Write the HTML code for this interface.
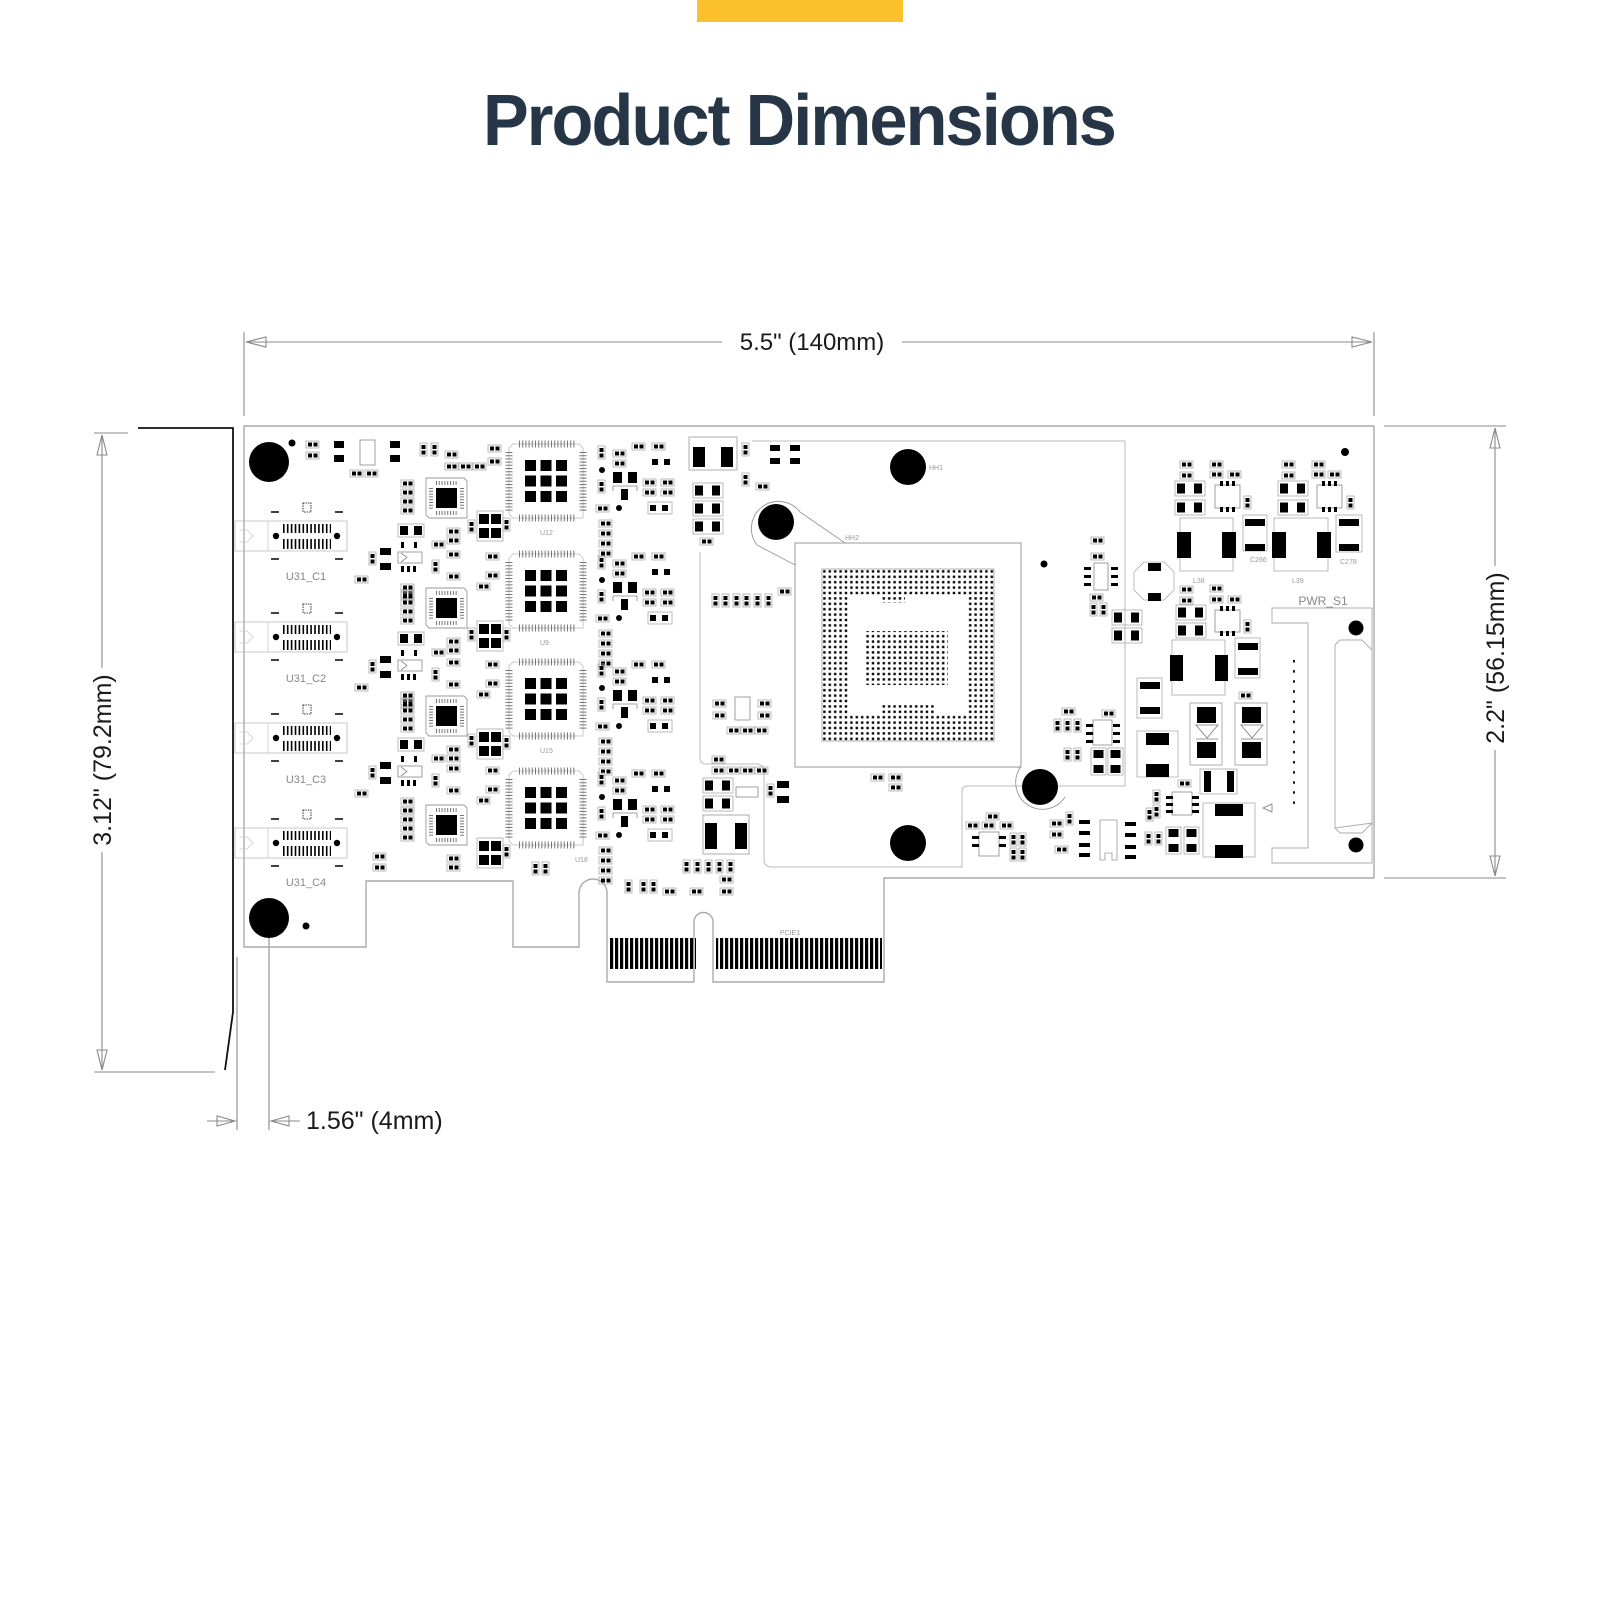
<!DOCTYPE html>
<html><head><meta charset="utf-8"><style>
html,body{margin:0;padding:0;background:#fff;}
svg{display:block;}
</style></head><body>
<svg width="1600" height="1600" viewBox="0 0 1600 1600" xmlns="http://www.w3.org/2000/svg" font-family="'Liberation Sans', sans-serif">
<defs>
  <g id="pp"><rect x="0" y="0" width="13" height="7" fill="none" stroke="#aaa" stroke-width="0.8"/><rect x="2" y="1.5" width="4" height="4" fill="#000"/><rect x="7.5" y="1.5" width="4" height="4" fill="#000"/></g>
  <g id="pv"><rect x="0" y="0" width="7" height="13" fill="none" stroke="#aaa" stroke-width="0.8"/><rect x="1.5" y="2" width="4" height="4" fill="#000"/><rect x="1.5" y="7.5" width="4" height="4" fill="#000"/></g>
  <g id="bp"><rect x="0" y="0" width="30" height="15" fill="none" stroke="#aaa" stroke-width="0.8"/><rect x="2" y="2.5" width="8" height="10" fill="#000"/><rect x="19" y="2.5" width="8" height="10" fill="#000"/></g>
  <g id="bv"><rect x="0" y="0" width="15" height="27" fill="none" stroke="#aaa" stroke-width="0.8"/><rect x="2.5" y="2" width="10" height="8" fill="#000"/><rect x="2.5" y="17" width="10" height="8" fill="#000"/></g>
  <g id="qfp">
    <path d="M6 4 H72 L76 8 V78 H6 L2 74 V8 Z" fill="none" stroke="#bbb" stroke-width="0.8"/>
    <line x1="12" y1="4" x2="68" y2="4" stroke="#777" stroke-width="7" stroke-dasharray="1 2.2"/>
    <line x1="12" y1="78" x2="68" y2="78" stroke="#777" stroke-width="7" stroke-dasharray="1 2.2"/>
    <line x1="2" y1="12" x2="2" y2="72" stroke="#777" stroke-width="7" stroke-dasharray="1 2.2"/>
    <line x1="76" y1="12" x2="76" y2="72" stroke="#777" stroke-width="7" stroke-dasharray="1 2.2"/>
    <rect x="18" y="20" width="11" height="11" fill="#000"/><rect x="33.5" y="20" width="11" height="11" fill="#000"/><rect x="49" y="20" width="11" height="11" fill="#000"/>
    <rect x="18" y="35.5" width="11" height="11" fill="#000"/><rect x="33.5" y="35.5" width="11" height="11" fill="#000"/><rect x="49" y="35.5" width="11" height="11" fill="#000"/>
    <rect x="18" y="51" width="11" height="11" fill="#000"/><rect x="33.5" y="51" width="11" height="11" fill="#000"/><rect x="49" y="51" width="11" height="11" fill="#000"/>
  </g>
  <g id="qfn">
    <path d="M0 0 H38 L41 3 V40 H3 L0 37 Z" fill="none" stroke="#999" stroke-width="0.9"/>
    <line x1="10" y1="5" x2="32" y2="5" stroke="#777" stroke-width="4" stroke-dasharray="1 1.8"/>
    <line x1="10" y1="35" x2="32" y2="35" stroke="#777" stroke-width="4" stroke-dasharray="1 1.8"/>
    <line x1="5" y1="10" x2="5" y2="31" stroke="#777" stroke-width="4" stroke-dasharray="1 1.8"/>
    <line x1="36" y1="10" x2="36" y2="31" stroke="#777" stroke-width="4" stroke-dasharray="1 1.8"/>
    <rect x="10" y="10" width="21" height="20" fill="#000"/>
  </g>
  <g id="port">
    <rect x="-72" y="-15" width="112" height="30" fill="none" stroke="#bbb" stroke-width="0.8"/>
    <line x1="-39" y1="-15" x2="-39" y2="15" stroke="#ccc" stroke-width="0.8"/>
    <path d="M-68 -6 H-60 L-54 0 L-60 6 H-68" fill="none" stroke="#ccc" stroke-width="0.8"/>
    <circle cx="-31" cy="0" r="3.2" fill="#000"/><circle cx="30" cy="0" r="3.2" fill="#000"/>
    <line x1="-24" y1="-7.5" x2="24" y2="-7.5" stroke="#000" stroke-width="9" stroke-dasharray="1.6 2.3"/>
    <line x1="-24" y1="8" x2="24" y2="8" stroke="#000" stroke-width="10" stroke-dasharray="1.6 2.3"/>
    <line x1="-36" y1="-24" x2="-28" y2="-24" stroke="#000" stroke-width="1.5"/>
    <line x1="28" y1="-24" x2="36" y2="-24" stroke="#000" stroke-width="1.5"/>
    <line x1="-36" y1="23" x2="-28" y2="23" stroke="#000" stroke-width="1.5"/>
    <line x1="28" y1="23" x2="36" y2="23" stroke="#000" stroke-width="1.5"/>
    <rect x="-4" y="-33" width="8" height="9" fill="none" stroke="#000" stroke-width="0.8" stroke-dasharray="1.5 1"/>
  </g>
  <g id="xtal">
    <rect x="0" y="0" width="26" height="30" fill="none" stroke="#aaa" stroke-width="0.8"/>
    <rect x="2" y="3" width="10" height="10" fill="#000"/><rect x="14" y="3" width="10" height="10" fill="#000"/>
    <rect x="2" y="17" width="10" height="10" fill="#000"/><rect x="14" y="17" width="10" height="10" fill="#000"/>
  </g>
  <pattern id="bga" x="822" y="569" width="5.4" height="5.4" patternUnits="userSpaceOnUse"><rect x="1.2" y="1.2" width="2.4" height="2.4" fill="#000"/></pattern>
  <pattern id="fing" x="610" y="0" width="5" height="10" patternUnits="userSpaceOnUse"><rect x="0" y="0" width="3.2" height="10" fill="#000"/></pattern>
  <g id="chA">
    <use href="#qfn" x="426" y="478"/>
    <use href="#xtal" x="477" y="511"/>
    <use href="#pv" x="503" y="518"/>
    <use href="#pp" x="401" y="480"/><use href="#pp" x="401" y="489"/><use href="#pp" x="401" y="498"/><use href="#pp" x="401" y="507"/>
    <use href="#pv" x="598" y="446"/><circle cx="602" cy="470" r="3" fill="#000"/><use href="#pv" x="598" y="480"/>
    <use href="#pp" x="596" y="505"/><circle cx="619" cy="508" r="3" fill="#000"/>
    <use href="#pp" x="599" y="520"/><use href="#pp" x="599" y="530"/><use href="#pp" x="599" y="540"/><use href="#pp" x="599" y="550"/>
    <use href="#pp" x="613" y="450"/><use href="#pp" x="613" y="460"/>
    <use href="#pp" x="632" y="443"/><use href="#pp" x="652" y="443"/>
    <rect x="652" y="459" width="6" height="6" fill="#000"/><rect x="664" y="459" width="6" height="6" fill="#000"/>
    <rect x="613" y="472" width="9" height="11" fill="#000"/><rect x="628" y="472" width="9" height="11" fill="#000"/>
    <path d="M613 491 V486 H637 V491" fill="none" stroke="#888" stroke-width="0.8"/><rect x="621" y="489" width="7" height="11" fill="#000"/>
    <use href="#pp" x="643" y="479"/><use href="#pp" x="661" y="479"/><use href="#pp" x="643" y="489"/><use href="#pp" x="661" y="489"/>
    <rect x="650" y="505" width="6" height="6" fill="#000"/><rect x="662" y="505" width="6" height="6" fill="#000"/>
    <rect x="648" y="502" width="24" height="12" fill="none" stroke="#aaa" stroke-width="0.8"/>
    <use href="#pp" x="447" y="528"/><use href="#pp" x="447" y="537"/>
  </g>
  <g id="chB">
    <rect x="398" y="524" width="26" height="13" fill="none" stroke="#aaa" stroke-width="0.8"/><rect x="400" y="526" width="8" height="9" fill="#000"/><rect x="414" y="526" width="8" height="9" fill="#000"/>
    <rect x="380" y="548" width="11" height="7" fill="#000"/><rect x="380" y="563" width="11" height="7" fill="#000"/>
    <use href="#pv" x="369" y="552"/>
    <rect x="398" y="552" width="24" height="11" fill="none" stroke="#888" stroke-width="0.8"/><path d="M401 553 L407 557.5 L401 562" fill="none" stroke="#888" stroke-width="0.8"/>
    <rect x="401" y="542" width="3" height="6" fill="#000"/><rect x="414" y="542" width="3" height="6" fill="#000"/>
    <rect x="401" y="566" width="3" height="6" fill="#000"/><rect x="407" y="566" width="3" height="6" fill="#000"/><rect x="413" y="566" width="3" height="6" fill="#000"/>
    <use href="#pp" x="355" y="576"/>
    <use href="#pp" x="401" y="584"/><use href="#pp" x="401" y="593"/>
    <use href="#pp" x="432" y="541"/><use href="#pp" x="447" y="551"/><use href="#pp" x="447" y="573"/>
    <use href="#pv" x="432" y="560"/><use href="#pv" x="468" y="520"/>
    <use href="#pp" x="477" y="583"/><use href="#pp" x="486" y="553"/><use href="#pp" x="486" y="572"/>
  </g>
</defs>

<!-- header -->
<rect x="697" y="0" width="206" height="22" fill="#fcc02c"/>
<text x="799" y="145" font-size="72" font-weight="bold" fill="#263646" text-anchor="middle" textLength="632" lengthAdjust="spacingAndGlyphs" letter-spacing="-2">Product Dimensions</text>

<!-- dimension lines -->
<g stroke="#8a8a8a" stroke-width="1.1" fill="none">
  <line x1="244" y1="332" x2="244" y2="416"/>
  <line x1="1374" y1="332" x2="1374" y2="416"/>
  <line x1="246" y1="342" x2="722" y2="342"/>
  <line x1="902" y1="342" x2="1372" y2="342"/>
  <path d="M246 342 L266 337 L266 347 Z"/>
  <path d="M1372 342 L1352 337 L1352 347 Z"/>
  <line x1="1384" y1="426" x2="1506" y2="426"/>
  <line x1="1384" y1="878" x2="1506" y2="878"/>
  <line x1="1495" y1="428" x2="1495" y2="566"/>
  <line x1="1495" y1="750" x2="1495" y2="876"/>
  <path d="M1495 428 L1490 448 L1500 448 Z"/>
  <path d="M1495 876 L1490 856 L1500 856 Z"/>
  <line x1="94" y1="433" x2="128" y2="433"/>
  <line x1="94" y1="1072" x2="215" y2="1072"/>
  <line x1="102" y1="435" x2="102" y2="668"/>
  <line x1="102" y1="852" x2="102" y2="1070"/>
  <path d="M102 435 L97 455 L107 455 Z"/>
  <path d="M102 1070 L97 1050 L107 1050 Z"/>
  <line x1="237" y1="957" x2="237" y2="1130"/>
  <line x1="269" y1="918" x2="269" y2="1130"/>
  <line x1="207" y1="1121" x2="235" y2="1121"/>
  <path d="M235 1121 L217 1116 L217 1126 Z"/>
  <line x1="271" y1="1121" x2="300" y2="1121"/>
  <path d="M271 1121 L289 1116 L289 1126 Z"/>
</g>
<text x="812" y="350" font-size="24" fill="#1a1a1a" text-anchor="middle">5.5" (140mm)</text>
<text transform="translate(1504,658) rotate(-90)" font-size="25" fill="#1a1a1a" text-anchor="middle">2.2" (56.15mm)</text>
<text transform="translate(111,760) rotate(-90)" font-size="25" fill="#1a1a1a" text-anchor="middle">3.12" (79.2mm)</text>
<text x="306" y="1129" font-size="25" fill="#1a1a1a">1.56" (4mm)</text>

<!-- bracket -->
<path d="M138 428 H233 V1012 L225 1070" fill="none" stroke="#111" stroke-width="1.8"/>

<!-- board outline -->
<path d="M244 426 H1374 V878 H884 V982 H713 V922 A9.5 9.5 0 0 0 694 922 V982 H607 V893 A14 14 0 0 0 579 893 V947 H513 V881 H366 V947 H244 Z" fill="none" stroke="#aaa" stroke-width="1.4"/>

<!-- heatsink outline -->
<path d="M752 441 H1125 V786 H968 Q962 786 962 792 V867 H772 Q764 867 764 859 V772 Q764 764 756 764 H706 Q700 764 700 758 V552" fill="none" stroke="#bbb" stroke-width="1"/>
<path d="M757 545 A26 26 0 1 1 800 512 L848 545" fill="none" stroke="#999" stroke-width="0.9"/>
<path d="M757 545 L795 565" fill="none" stroke="#999" stroke-width="0.9"/>
<path d="M1065 797 A26 26 0 1 1 1020 768 L990 745" fill="none" stroke="#999" stroke-width="0.9"/>

<!-- holes -->
<g fill="#000">
  <circle cx="269" cy="462" r="20"/><circle cx="269" cy="918" r="20"/>
  <circle cx="908" cy="467" r="18"/><circle cx="776" cy="522" r="18"/>
  <circle cx="908" cy="843" r="18"/><circle cx="1040" cy="787" r="18"/>
  <circle cx="292" cy="443" r="3.5"/><circle cx="306" cy="926" r="3.5"/>
  <circle cx="1345" cy="452" r="4"/><circle cx="1044" cy="564" r="3.5"/><circle cx="806" cy="725" r="3.5"/>
  <circle cx="1356" cy="628" r="7.5"/><circle cx="1356" cy="845" r="7.5"/>
</g>
<g font-size="7" fill="#999">
  <text x="929" y="470">HH1</text><text x="845" y="540">HH2</text><text x="909" y="566">U6</text>
</g>

<!-- BGA -->
<rect x="795" y="543" width="226" height="224" fill="#fff" stroke="#999" stroke-width="1"/>
<rect x="822" y="569" width="172" height="172" fill="url(#bga)" stroke="#999" stroke-width="0.8"/>
<path d="M848 595 H880 V603 H905 V595 H968 V715 H935 V705 H880 V715 H848 Z" fill="#fff"/>
<rect x="866" y="631" width="82" height="54" fill="url(#bga)"/>

<!-- QFPs -->
<use href="#qfp" x="507" y="440"/>
<use href="#qfp" x="507" y="550"/>
<use href="#qfp" x="507" y="658"/>
<use href="#qfp" x="507" y="767"/>
<g font-size="7" fill="#999"><text x="540" y="535">U12</text><text x="540" y="645">U9</text><text x="540" y="753">U15</text><text x="575" y="862">U18</text></g>

<!-- ports -->
<use href="#port" x="307" y="536"/>
<use href="#port" x="307" y="637"/>
<use href="#port" x="307" y="738"/>
<use href="#port" x="307" y="843"/>
<g font-size="11" fill="#888" text-anchor="middle">
  <text x="306" y="580">U31_C1</text><text x="306" y="682">U31_C2</text><text x="306" y="783">U31_C3</text><text x="306" y="886">U31_C4</text>
</g>

<!-- channel blocks -->
<use href="#chA"/>
<use href="#chA" y="110"/>
<use href="#chA" y="218"/>
<use href="#chA" y="327"/>
<use href="#chB"/>
<use href="#chB" y="108"/>
<use href="#chB" y="214"/>

<!-- top-left row -->
<use href="#pp" x="306" y="441"/><use href="#pp" x="306" y="452"/>
<rect x="334" y="441" width="10" height="7" fill="#000"/><rect x="334" y="455" width="10" height="7" fill="#000"/>
<rect x="360" y="440" width="15" height="25" fill="none" stroke="#888" stroke-width="0.8"/>
<rect x="390" y="441" width="10" height="7" fill="#000"/><rect x="390" y="455" width="10" height="7" fill="#000"/>
<use href="#pp" x="350" y="470"/><use href="#pp" x="365" y="470"/>
<use href="#pv" x="420" y="443"/><use href="#pv" x="431" y="443"/>
<use href="#pp" x="445" y="451"/><use href="#pp" x="445" y="463"/><use href="#pp" x="459" y="463"/><use href="#pp" x="473" y="463"/>
<use href="#pp" x="488" y="445"/><use href="#pp" x="488" y="458"/>
<use href="#pp" x="373" y="853"/><use href="#pp" x="373" y="864"/>
<use href="#pv" x="532" y="862"/><use href="#pv" x="542" y="862"/>

<!-- center-left -->
<rect x="689" y="437" width="48" height="33" fill="none" stroke="#999" stroke-width="0.8"/>
<rect x="693" y="447" width="12" height="20" fill="#000"/><rect x="721" y="447" width="12" height="20" fill="#000"/>
<use href="#bp" x="693" y="483"/><use href="#bp" x="693" y="501"/><use href="#bp" x="693" y="519"/>
<use href="#pp" x="700" y="538"/>
<use href="#pv" x="742" y="443"/><use href="#pv" x="742" y="473"/><use href="#pp" x="756" y="483"/>
<rect x="770" y="445" width="10" height="6" fill="#000"/><rect x="770" y="458" width="10" height="6" fill="#000"/>
<rect x="790" y="445" width="10" height="6" fill="#000"/><rect x="790" y="458" width="10" height="6" fill="#000"/>
<use href="#pv" x="712" y="594"/><use href="#pv" x="722" y="594"/><use href="#pv" x="733" y="594"/><use href="#pv" x="743" y="594"/><use href="#pv" x="754" y="594"/><use href="#pv" x="765" y="594"/>
<use href="#pp" x="778" y="588"/>
<use href="#pp" x="713" y="700"/><use href="#pp" x="713" y="712"/>
<rect x="735" y="697" width="15" height="23" fill="none" stroke="#888" stroke-width="0.8"/>
<use href="#pp" x="758" y="700"/><use href="#pp" x="758" y="712"/>
<use href="#pp" x="727" y="727"/><use href="#pp" x="741" y="727"/><use href="#pp" x="755" y="727"/>
<use href="#pp" x="712" y="756"/><use href="#pp" x="712" y="767"/><use href="#pp" x="727" y="767"/><use href="#pp" x="741" y="767"/><use href="#pp" x="755" y="767"/>
<use href="#bp" x="703" y="778"/><use href="#bp" x="703" y="796"/>
<rect x="736" y="787" width="22" height="10" fill="none" stroke="#888" stroke-width="0.8"/>
<use href="#pv" x="767" y="784"/>
<rect x="777" y="781" width="12" height="7" fill="#000"/><rect x="777" y="796" width="12" height="7" fill="#000"/>
<rect x="703" y="815" width="46" height="39" fill="none" stroke="#999" stroke-width="0.8"/>
<rect x="705" y="823" width="12" height="26" fill="#000"/><rect x="735" y="823" width="12" height="26" fill="#000"/>
<use href="#pv" x="683" y="860"/><use href="#pv" x="694" y="860"/><use href="#pv" x="705" y="860"/><use href="#pv" x="716" y="860"/><use href="#pv" x="727" y="860"/>
<use href="#pv" x="625" y="880"/><use href="#pv" x="640" y="880"/><use href="#pv" x="650" y="880"/>
<use href="#pp" x="663" y="888"/><use href="#pp" x="690" y="888"/><use href="#pp" x="720" y="876"/><use href="#pp" x="720" y="888"/>

<!-- gold fingers -->
<rect x="610" y="938" width="86" height="31" fill="url(#fing)"/>
<rect x="716" y="938" width="166" height="31" fill="url(#fing)"/>
<text x="790" y="935" font-size="7" fill="#999" text-anchor="middle">PCIE1</text>

<!-- right-middle -->
<use href="#pp" x="1091" y="537"/><use href="#pp" x="1091" y="553"/>
<rect x="1094" y="563" width="14" height="27" fill="none" stroke="#888" stroke-width="0.8"/>
<rect x="1084" y="567" width="7" height="3" fill="#000"/><rect x="1084" y="575" width="7" height="3" fill="#000"/><rect x="1084" y="583" width="7" height="3" fill="#000"/>
<rect x="1111" y="567" width="7" height="3" fill="#000"/><rect x="1111" y="575" width="7" height="3" fill="#000"/><rect x="1111" y="583" width="7" height="3" fill="#000"/>
<use href="#pp" x="1090" y="594"/><use href="#pv" x="1090" y="603"/><use href="#pv" x="1100" y="603"/>
<use href="#bp" x="1112" y="610"/><use href="#bp" x="1112" y="628"/>
<use href="#pp" x="1062" y="708"/><use href="#pv" x="1054" y="719"/><use href="#pv" x="1064" y="719"/><use href="#pv" x="1074" y="719"/>
<use href="#pp" x="1102" y="710"/>
<rect x="1093" y="720" width="19" height="25" fill="none" stroke="#888" stroke-width="0.8"/>
<rect x="1086" y="724" width="7" height="3" fill="#000"/><rect x="1086" y="732" width="7" height="3" fill="#000"/><rect x="1086" y="740" width="7" height="3" fill="#000"/>
<rect x="1113" y="724" width="7" height="3" fill="#000"/><rect x="1113" y="732" width="7" height="3" fill="#000"/><rect x="1113" y="740" width="7" height="3" fill="#000"/>
<use href="#pv" x="1064" y="748"/><use href="#pv" x="1074" y="748"/>
<use href="#bv" x="1091" y="748"/><use href="#bv" x="1108" y="748"/>
<use href="#pp" x="871" y="774"/><use href="#pp" x="889" y="774"/><use href="#pp" x="889" y="784"/>
<use href="#pp" x="986" y="813"/>
<use href="#pp" x="966" y="822"/><use href="#pp" x="982" y="822"/><use href="#pp" x="1000" y="822"/>
<rect x="979" y="832" width="20" height="24" fill="none" stroke="#888" stroke-width="0.8"/>
<rect x="972" y="836" width="7" height="3" fill="#000"/><rect x="972" y="844" width="7" height="3" fill="#000"/><rect x="999" y="836" width="7" height="3" fill="#000"/><rect x="999" y="844" width="7" height="3" fill="#000"/>
<use href="#pv" x="1010" y="833"/><use href="#pv" x="1019" y="833"/><use href="#pv" x="1010" y="848"/><use href="#pv" x="1019" y="848"/>
<use href="#pp" x="1050" y="820"/><use href="#pp" x="1050" y="831"/><use href="#pp" x="1055" y="846"/><use href="#pv" x="1066" y="812"/>
<rect x="1079" y="820" width="11" height="4" fill="#000"/><rect x="1079" y="831" width="11" height="4" fill="#000"/><rect x="1079" y="843" width="11" height="4" fill="#000"/><rect x="1079" y="853" width="11" height="4" fill="#000"/>
<path d="M1100 820 V860 H1105 V853 H1112 V860 H1117 V820 Z" fill="none" stroke="#999" stroke-width="0.8"/>
<rect x="1125" y="822" width="11" height="4" fill="#000"/><rect x="1125" y="833" width="11" height="4" fill="#000"/><rect x="1125" y="845" width="11" height="4" fill="#000"/><rect x="1125" y="855" width="11" height="4" fill="#000"/>
<use href="#pv" x="1145" y="832"/><use href="#pv" x="1155" y="832"/>
<use href="#pv" x="1153" y="790"/><use href="#pv" x="1153" y="805"/><use href="#pv" x="1146" y="808"/>
<use href="#pp" x="1178" y="780"/>
<rect x="1172" y="792" width="20" height="23" fill="none" stroke="#888" stroke-width="0.8"/>
<rect x="1166" y="796" width="7" height="3" fill="#000"/><rect x="1166" y="803" width="7" height="3" fill="#000"/><rect x="1166" y="810" width="7" height="3" fill="#000"/>
<rect x="1192" y="796" width="7" height="3" fill="#000"/><rect x="1192" y="803" width="7" height="3" fill="#000"/><rect x="1192" y="810" width="7" height="3" fill="#000"/>
<use href="#bv" x="1166" y="827"/><use href="#bv" x="1184" y="827"/>

<!-- top right -->
<use href="#pp" x="1180" y="461"/><use href="#pp" x="1180" y="472"/>
<use href="#pp" x="1210" y="461"/><use href="#pp" x="1210" y="471"/><use href="#pp" x="1228" y="471"/>
<use href="#bp" x="1175" y="481"/><use href="#bp" x="1175" y="500"/>
<rect x="1215" y="485" width="25" height="23" fill="none" stroke="#888" stroke-width="0.8"/>
<rect x="1220" y="481" width="3" height="5" fill="#000"/><rect x="1226" y="481" width="3" height="5" fill="#000"/><rect x="1232" y="481" width="3" height="5" fill="#000"/>
<rect x="1220" y="507" width="3" height="5" fill="#000"/><rect x="1226" y="507" width="3" height="5" fill="#000"/><rect x="1232" y="507" width="3" height="5" fill="#000"/>
<use href="#pv" x="1244" y="496"/>
<use href="#pp" x="1282" y="461"/><use href="#pp" x="1282" y="472"/>
<use href="#pp" x="1312" y="461"/><use href="#pp" x="1312" y="471"/><use href="#pp" x="1328" y="471"/>
<use href="#bp" x="1278" y="481"/><use href="#bp" x="1278" y="500"/>
<rect x="1317" y="485" width="25" height="23" fill="none" stroke="#888" stroke-width="0.8"/>
<rect x="1322" y="481" width="3" height="5" fill="#000"/><rect x="1328" y="481" width="3" height="5" fill="#000"/><rect x="1334" y="481" width="3" height="5" fill="#000"/>
<rect x="1322" y="507" width="3" height="5" fill="#000"/><rect x="1328" y="507" width="3" height="5" fill="#000"/><rect x="1334" y="507" width="3" height="5" fill="#000"/>
<use href="#pv" x="1347" y="496"/>
<rect x="1180" y="518" width="53" height="53" fill="none" stroke="#aaa" stroke-width="0.8"/>
<rect x="1177" y="532" width="14" height="26" fill="#000"/><rect x="1222" y="532" width="14" height="26" fill="#000"/>
<rect x="1243" y="515" width="24" height="36" fill="none" stroke="#aaa" stroke-width="0.8"/>
<rect x="1245" y="519" width="20" height="7" fill="#000"/><rect x="1245" y="544" width="20" height="7" fill="#000"/>
<rect x="1274" y="518" width="54" height="53" fill="none" stroke="#aaa" stroke-width="0.8"/>
<rect x="1272" y="532" width="14" height="26" fill="#000"/><rect x="1317" y="532" width="14" height="26" fill="#000"/>
<rect x="1336" y="515" width="26" height="37" fill="none" stroke="#aaa" stroke-width="0.8"/>
<rect x="1339" y="519" width="20" height="7" fill="#000"/><rect x="1339" y="544" width="20" height="7" fill="#000"/>
<path d="M1144 562 H1164 L1174 572 V590 L1164 600 H1144 L1134 590 V572 Z" fill="none" stroke="#aaa" stroke-width="0.8"/>
<rect x="1148" y="563" width="13" height="8" fill="#000"/><rect x="1148" y="593" width="13" height="8" fill="#000"/>
<use href="#pp" x="1180" y="586"/><use href="#pp" x="1180" y="597"/>
<use href="#pp" x="1210" y="585"/><use href="#pp" x="1210" y="596"/><use href="#pp" x="1228" y="596"/>
<use href="#bp" x="1176" y="605"/><use href="#bp" x="1176" y="623"/>
<rect x="1215" y="610" width="25" height="22" fill="none" stroke="#888" stroke-width="0.8"/>
<rect x="1220" y="606" width="3" height="5" fill="#000"/><rect x="1226" y="606" width="3" height="5" fill="#000"/><rect x="1232" y="606" width="3" height="5" fill="#000"/>
<rect x="1220" y="631" width="3" height="5" fill="#000"/><rect x="1226" y="631" width="3" height="5" fill="#000"/><rect x="1232" y="631" width="3" height="5" fill="#000"/>
<use href="#pv" x="1244" y="620"/>
<rect x="1172" y="640" width="53" height="55" fill="none" stroke="#aaa" stroke-width="0.8"/>
<rect x="1170" y="655" width="13" height="26" fill="#000"/><rect x="1215" y="655" width="13" height="26" fill="#000"/>
<rect x="1235" y="638" width="25" height="40" fill="none" stroke="#aaa" stroke-width="0.8"/>
<rect x="1238" y="643" width="20" height="7" fill="#000"/><rect x="1238" y="668" width="20" height="7" fill="#000"/>
<rect x="1137" y="678" width="25" height="40" fill="none" stroke="#aaa" stroke-width="0.8"/>
<rect x="1140" y="682" width="20" height="7" fill="#000"/><rect x="1140" y="707" width="20" height="7" fill="#000"/>
<use href="#pp" x="1239" y="692"/>
<g>
  <rect x="1190" y="703" width="32" height="62" fill="none" stroke="#999" stroke-width="0.8"/>
  <rect x="1197" y="707" width="19" height="16" fill="#000"/><rect x="1197" y="742" width="19" height="16" fill="#000"/>
  <path d="M1196 725 H1218 L1207 738 Z M1196 739 H1218" fill="none" stroke="#777" stroke-width="0.8"/>
  <rect x="1235" y="703" width="32" height="62" fill="none" stroke="#999" stroke-width="0.8"/>
  <rect x="1242" y="707" width="19" height="16" fill="#000"/><rect x="1242" y="742" width="19" height="16" fill="#000"/>
  <path d="M1241 725 H1263 L1252 738 Z M1241 739 H1263" fill="none" stroke="#777" stroke-width="0.8"/>
</g>
<path d="M1137 731 H1178 V777 H1137 Z" fill="none" stroke="#aaa" stroke-width="0.8"/>
<rect x="1146" y="733" width="23" height="12" fill="#000"/><rect x="1146" y="764" width="23" height="13" fill="#000"/>
<rect x="1200" y="769" width="37" height="25" fill="none" stroke="#aaa" stroke-width="0.8"/>
<rect x="1204" y="771" width="7" height="21" fill="#000"/><rect x="1227" y="771" width="7" height="21" fill="#000"/>
<rect x="1203" y="803" width="52" height="54" fill="none" stroke="#aaa" stroke-width="0.8"/>
<rect x="1215" y="804" width="28" height="12" fill="#000"/><rect x="1215" y="845" width="28" height="13" fill="#000"/>
<path d="M1263 808 L1272 804 V812 Z" fill="none" stroke="#777" stroke-width="0.8"/>

<!-- PWR_S1 -->
<path d="M1272 608 H1372 V863 H1272 V848 H1308 V623 H1272 Z" fill="none" stroke="#aaa" stroke-width="0.9"/>
<path d="M1335 645 L1340 640 H1362 L1372 650 M1372 823 L1362 833 H1340 L1335 828 Z M1335 645 V828" fill="none" stroke="#aaa" stroke-width="0.9"/>
<line x1="1294" y1="660" x2="1294" y2="806" stroke="#000" stroke-width="1.8" stroke-dasharray="2.5 7.6"/>
<text x="1323" y="605" font-size="12" fill="#888" text-anchor="middle">PWR_S1</text>
<g font-size="7" fill="#999"><text x="1193" y="583">L38</text><text x="1292" y="583">L39</text><text x="1250" y="562">C266</text><text x="1340" y="564">C278</text></g>
</svg>
</body></html>
